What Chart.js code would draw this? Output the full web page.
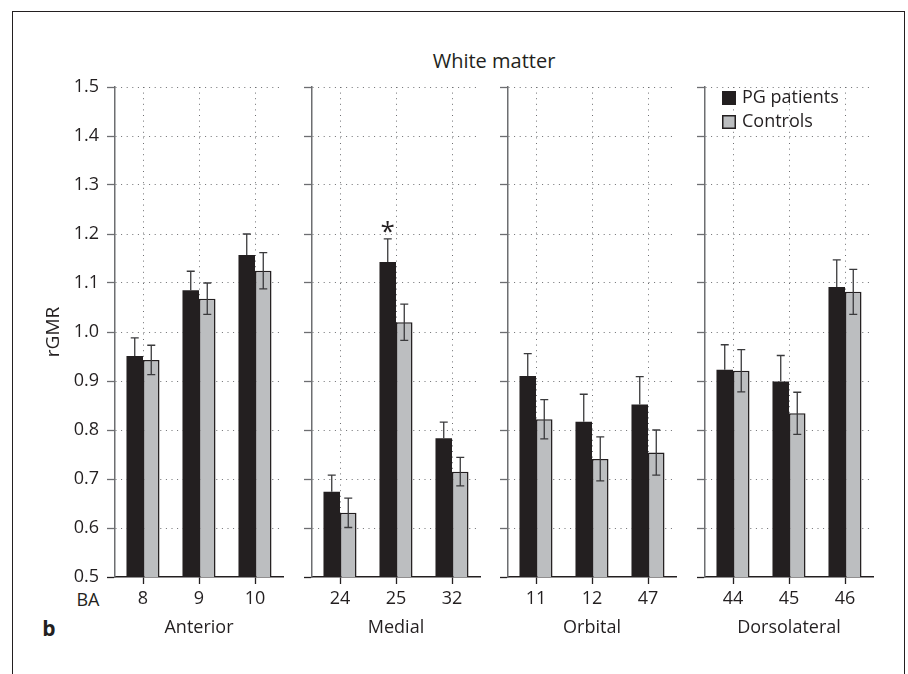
<!DOCTYPE html>
<html lang="en">
<head>
<meta charset="UTF-8">
<title>White matter rGMR</title>
<script src="https://cdn.jsdelivr.net/npm/chart.js"></script>
<style>
  body { margin: 0; background: #fff; font-family: 'Open Sans', sans-serif; color: #231f20; }
  #wrap { position: relative; width: 908px; height: 674px; overflow: hidden; }
  #frame { position: absolute; left: 12px; top: 11px; width: 891px; height: 700px; border: 1.5px solid #231f20; }
  .txt { position: absolute; white-space: nowrap; line-height: 1; transform: translate(-50%, -50%); }
  canvas { position: absolute; }
</style>
</head>
<body>
<div id="wrap">
  <div id="frame"></div>
  <div class="txt" style="left:494px; top:61px; font-size:20px;">White matter</div>
  <div class="txt" style="left:88px; top:599px; font-size:18px;">BA</div>
  <div class="txt" style="left:49px; top:628px; font-size:21px; font-weight:bold;">b</div>
</div>

<script>
  // Brodmann areas, three per region
  const regions = ['Anterior', 'Medial', 'Orbital', 'Dorsolateral'];
  const baLabels = ['8', '9', '10', '24', '25', '32', '11', '12', '47', '44', '45', '46'];

  // mean rGMR and error per area
  const patientMean = [0.951, 1.085, 1.157, 0.674, 1.143, 0.783, 0.910, 0.817, 0.852, 0.923, 0.899, 1.092];
  const patientErr  = [0.037, 0.039, 0.043, 0.034, 0.047, 0.033, 0.046, 0.056, 0.057, 0.051, 0.053, 0.055];
  const controlMean = [0.943, 1.068, 1.125, 0.631, 1.020, 0.715, 0.822, 0.741, 0.754, 0.921, 0.834, 1.082];
  const controlErr  = [0.030, 0.032, 0.037, 0.030, 0.037, 0.029, 0.040, 0.045, 0.046, 0.043, 0.043, 0.046];
  const patientMarks = ['', '', '', '', '*', '', '', '', '', '', '', ''];

  const yMin = 0.5, yMax = 1.5, yStep = 0.1;

  const ink = '#231f20';
  const axisGray = '#6d6e71';
  const font = { family: "'Open Sans', sans-serif", size: 18 };

  // error bars + significance marks; lower whisker is hidden inside dark bars
  const errorBars = {
    id: 'errorBars',
    afterDatasetsDraw(chart) {
      const ctx = chart.ctx;
      const y = chart.scales.y;
      chart.data.datasets.forEach((ds, di) => {
        const dark = ds.backgroundColor === ink;
        chart.getDatasetMeta(di).data.forEach((bar, j) => {
          const v = ds.data[j], e = ds.errors[j];
          const top = y.getPixelForValue(v + e);
          const mid = y.getPixelForValue(v);
          const bot = y.getPixelForValue(v - e);
          ctx.save();
          ctx.strokeStyle = '#3a3a3c';
          ctx.lineWidth = 1.3;
          ctx.beginPath();
          ctx.moveTo(bar.x, top); ctx.lineTo(bar.x, dark ? mid : bot);
          ctx.moveTo(bar.x - 4, top); ctx.lineTo(bar.x + 4, top);
          if (!dark) { ctx.moveTo(bar.x - 4, bot); ctx.lineTo(bar.x + 4, bot); }
          ctx.stroke();
          if (ds.marks && ds.marks[j]) {
            ctx.fillStyle = ink;
            ctx.font = "26px 'Open Sans', sans-serif";
            ctx.textAlign = 'center';
            ctx.textBaseline = 'alphabetic';
            ctx.fillText(ds.marks[j], bar.x, top + 1);
          }
          ctx.restore();
        });
      });
    }
  };

  // legend box in the top-left of the last panel
  const boxLegend = {
    id: 'boxLegend',
    afterDraw(chart, args, opts) {
      if (!opts.show) return;
      const ctx = chart.ctx;
      const x0 = chart.chartArea.left + 17;
      let y0 = chart.chartArea.top + 4;
      chart.data.datasets.forEach(ds => {
        ctx.save();
        ctx.fillStyle = ds.backgroundColor;
        ctx.fillRect(x0, y0, 14, 14);
        ctx.strokeStyle = ink;
        ctx.lineWidth = 1.5;
        ctx.strokeRect(x0 + 0.75, y0 + 0.75, 12.5, 12.5);
        ctx.fillStyle = ink;
        ctx.font = "18px 'Open Sans', sans-serif";
        ctx.textBaseline = 'middle';
        ctx.fillText(ds.label, x0 + 20, y0 + 7);
        ctx.restore();
        y0 += 24;
      });
    }
  };

  const axisX = [115, 312, 508, 705];
  const plotW = 168;

  function makePanel(k) {
    const first = k === 0;
    const yw = first ? 73 : 10;
    const canvas = document.createElement('canvas');
    const w = yw + plotW + 3;
    canvas.width = w;
    canvas.height = 579;
    canvas.style.left = (axisX[k] - yw) + 'px';
    canvas.style.top = '60px';
    canvas.style.width = w + 'px';
    canvas.style.height = '579px';
    document.getElementById('wrap').appendChild(canvas);

    const s = k * 3, e = s + 3;
    new Chart(canvas, {
      type: 'bar',
      data: {
        labels: baLabels.slice(s, e),
        datasets: [{
          label: 'PG patients',
          data: patientMean.slice(s, e),
          errors: patientErr.slice(s, e),
          marks: patientMarks.slice(s, e),
          backgroundColor: ink,
          borderWidth: 0,
          categoryPercentage: 0.59,
          barPercentage: 1
        }, {
          label: 'Controls',
          data: controlMean.slice(s, e),
          errors: controlErr.slice(s, e),
          backgroundColor: '#bcbec0',
          borderColor: ink,
          borderWidth: 1.5,
          categoryPercentage: 0.59,
          barPercentage: 1
        }]
      },
      options: {
        responsive: false,
        animation: false,
        layout: { padding: { top: 27, right: 3, bottom: 0, left: 0 } },
        plugins: {
          legend: { display: false },
          tooltip: { enabled: false },
          boxLegend: { show: k === 3 }
        },
        scales: {
          x: {
            afterFit(scale) { scale.height = 62; },
            grid: {
              offset: false,
              color: axisGray,
              tickLength: 7,
              tickColor: ink,
              tickWidth: 1.3,
              tickBorderDash: []
            },
            border: { color: ink, width: 1.5, dash: [1, 4.6] },
            ticks: { color: ink, font: font, padding: 4, maxRotation: 0, autoSkip: false },
            title: { display: true, text: regions[k], color: ink, font: font, padding: 0 }
          },
          y: {
            min: yMin,
            max: yMax,
            afterFit(scale) { scale.width = yw; },
            grid: {
              color: c => c.tick && c.tick.value === yMin ? 'rgba(0,0,0,0)' : axisGray,
              tickLength: 8,
              tickColor: c => c.tick && c.tick.value === yMin ? ink : axisGray,
              tickWidth: 1.3,
              tickBorderDash: []
            },
            border: { color: axisGray, width: 1.5, dash: [1, 4.6] },
            ticks: {
              display: first,
              stepSize: yStep,
              color: ink,
              font: font,
              padding: 8,
              callback: v => v.toFixed(1)
            },
            title: { display: first, text: 'rGMR', color: ink, font: { family: font.family, size: 19 }, padding: 0 }
          }
        }
      },
      plugins: [errorBars, boxLegend]
    });
  }

  for (let k = 0; k < regions.length; k++) makePanel(k);
</script>
</body>
</html>
